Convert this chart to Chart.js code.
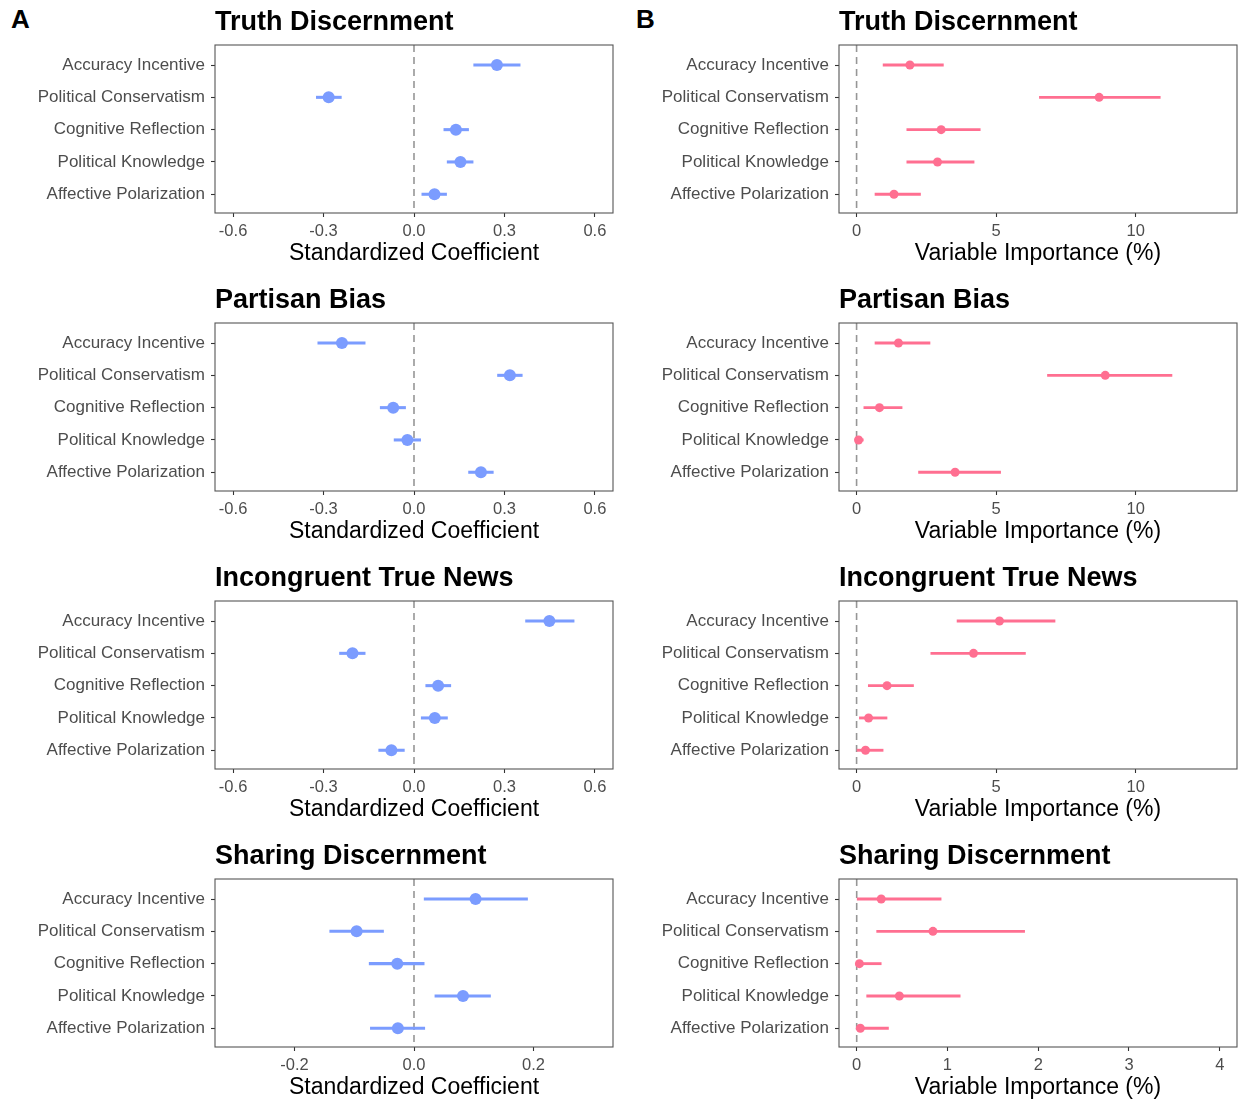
<!DOCTYPE html>
<html>
<head>
<meta charset="utf-8">
<script src="https://cdn.jsdelivr.net/npm/chart.js@4.4.1/dist/chart.umd.min.js"></script>
<style>
  html, body { margin: 0; padding: 0; background: #ffffff; }
  body { width: 1238px; height: 1099px; position: relative; overflow: hidden; }
  canvas { position: absolute; }
  .tag { position: absolute; font: bold 26px "Liberation Sans", Arial, sans-serif; color: #000; line-height: 1; }
</style>
</head>
<body>
<div class="tag" style="left:11px; top:6px;">A</div>
<div class="tag" style="left:636px; top:6px;">B</div>

<script>
// Predictors, listed top to bottom
const predictors = [
  'Accuracy Incentive',
  'Political Conservatism',
  'Cognitive Reflection',
  'Political Knowledge',
  'Affective Polarization'
];

const outcomeTitles = ['Truth Discernment', 'Partisan Bias', 'Incongruent True News', 'Sharing Discernment'];

// Column A: standardized regression coefficients (estimate, lower, upper)
const coefTruth      = [0.275, -0.283, 0.139, 0.154, 0.068];
const coefTruthLo    = [0.198, -0.324, 0.099, 0.110, 0.026];
const coefTruthHi    = [0.352, -0.241, 0.181, 0.196, 0.108];

const coefBias       = [-0.239, 0.318, -0.069, -0.022, 0.222];
const coefBiasLo     = [-0.319, 0.277, -0.112, -0.066, 0.181];
const coefBiasHi     = [-0.162, 0.359, -0.028, 0.022, 0.263];

const coefIncong     = [0.449, -0.204, 0.080, 0.069, -0.075];
const coefIncongLo   = [0.370, -0.247, 0.039, 0.024, -0.117];
const coefIncongHi   = [0.531, -0.162, 0.122, 0.111, -0.032];

const coefSharing    = [0.103, -0.096, -0.028, 0.082, -0.027];
const coefSharingLo  = [0.017, -0.141, -0.075, 0.035, -0.073];
const coefSharingHi  = [0.190, -0.051, 0.017, 0.128, 0.018];

// Column B: variable importance in percent (estimate, lower, upper)
const impTruth       = [1.91, 8.69, 3.03, 2.90, 1.34];
const impTruthLo     = [0.95, 6.55, 1.80, 1.80, 0.66];
const impTruthHi     = [3.11, 10.88, 4.43, 4.21, 2.29];

const impBias        = [1.50, 8.91, 0.82, 0.07, 3.53];
const impBiasLo      = [0.66, 6.84, 0.26, 0.00, 2.22];
const impBiasHi      = [2.63, 11.30, 1.63, 0.24, 5.16];

const impIncong      = [5.12, 4.19, 1.09, 0.43, 0.32];
const impIncongLo    = [3.60, 2.66, 0.42, 0.10, 0.00];
const impIncongHi    = [7.11, 6.05, 2.04, 1.09, 0.95];

const impSharing     = [0.27, 0.84, 0.03, 0.47, 0.04];
const impSharingLo   = [0.00, 0.22, 0.00, 0.11, 0.00];
const impSharingHi   = [0.93, 1.85, 0.27, 1.14, 0.35];

// Axis ticks
const coefTicks        = [-0.6, -0.3, 0.0, 0.3, 0.6];
const coefTicksSharing = [-0.2, 0.0, 0.2];
const impTicks         = [0, 5, 10];
const impTicksSharing  = [0, 1, 2, 3, 4];

const BLUE = '#7b9cff';
const PINK = '#ff6f91';
const FONT = '"Liberation Sans", Arial, Helvetica, sans-serif';

// Panel frame, dashed zero reference and panel heading
const panelDecor = {
  id: 'panelDecor',
  beforeDatasetsDraw(chart, args, opts) {
    const { ctx, chartArea } = chart;
    const x0 = chart.scales.x.getPixelForValue(0);
    ctx.save();
    ctx.strokeStyle = '#969696';
    ctx.lineWidth = 1.6;
    ctx.setLineDash([7, 5]);
    ctx.beginPath();
    ctx.moveTo(x0, chartArea.top);
    ctx.lineTo(x0, chartArea.bottom);
    ctx.stroke();
    ctx.restore();
  },
  afterDraw(chart, args, opts) {
    const { ctx, chartArea } = chart;
    ctx.save();
    ctx.strokeStyle = '#555555';
    ctx.lineWidth = 1.1;
    ctx.strokeRect(chartArea.left, chartArea.top, chartArea.right - chartArea.left, chartArea.bottom - chartArea.top);
    ctx.fillStyle = '#000000';
    ctx.font = 'bold 27px ' + FONT;
    ctx.textBaseline = 'alphabetic';
    ctx.textAlign = 'left';
    ctx.fillText(opts.heading, chartArea.left, 30);
    ctx.restore();
  }
};

function makePanel(opts) {
  const cv = document.createElement('canvas');
  cv.width = 614;
  cv.height = 278;
  cv.style.left = opts.left + 'px';
  cv.style.top = opts.top + 'px';
  document.body.appendChild(cv);

  const errData = opts.lo.map((l, i) => ({ x: [l, opts.hi[i]], y: i }));
  const ptData = opts.est.map((v, i) => ({ x: v, y: i }));

  return new Chart(cv.getContext('2d'), {
    type: 'bar',
    data: {
      datasets: [
        {
          type: 'bar',
          indexAxis: 'y',
          data: errData,
          backgroundColor: opts.color,
          borderWidth: 0,
          barThickness: opts.lineW,
          order: 2
        },
        {
          type: 'scatter',
          data: ptData,
          backgroundColor: opts.color,
          borderWidth: 0,
          pointRadius: opts.radius,
          pointHoverRadius: opts.radius,
          order: 1
        }
      ]
    },
    options: {
      indexAxis: 'y',
      responsive: false,
      animation: false,
      events: [],
      layout: { autoPadding: false, padding: { top: 45, right: 1, bottom: 0, left: 0 } },
      plugins: {
        legend: { display: false },
        tooltip: { enabled: false },
        panelDecor: { heading: opts.heading }
      },
      scales: {
        x: {
          type: 'linear',
          position: 'bottom',
          offset: false,
          min: opts.min,
          max: opts.max,
          afterBuildTicks: s => { s.ticks = opts.ticks.map(v => ({ value: v })); },
          afterFit: s => { s.height = 65; s.paddingLeft = 0; s.paddingRight = 0; },
          border: { display: false },
          grid: {
            offset: false,
            drawOnChartArea: false,
            drawTicks: true,
            tickLength: 4,
            tickColor: '#333333',
            tickWidth: 1.1
          },
          ticks: {
            padding: 5,
            color: '#4d4d4d',
            font: { family: FONT, size: 16.5 },
            maxRotation: 0,
            autoSkip: false,
            callback: v => opts.fmt(v)
          },
          title: {
            display: true,
            text: opts.axisTitle,
            color: '#000000',
            font: { family: FONT, size: 23 },
            padding: { top: 0, bottom: 11 }
          }
        },
        y: {
          type: 'linear',
          position: 'left',
          reverse: true,
          offset: false,
          min: -0.62,
          max: 4.58,
          afterBuildTicks: s => { s.ticks = predictors.map((_, i) => ({ value: i })); },
          afterFit: s => { s.width = 215; s.paddingTop = 0; s.paddingBottom = 0; },
          border: { display: false },
          grid: {
            offset: false,
            drawOnChartArea: false,
            drawTicks: true,
            tickLength: 4,
            tickColor: '#333333',
            tickWidth: 1.1
          },
          ticks: {
            padding: 6,
            color: '#4d4d4d',
            font: { family: FONT, size: 17 },
            autoSkip: false,
            callback: v => predictors[v]
          }
        }
      }
    },
    plugins: [panelDecor]
  });
}

const rowPitch = 278;
const coefFmt = v => v.toFixed(1);
const impFmt = v => String(v);

const colA = [
  { est: coefTruth,   lo: coefTruthLo,   hi: coefTruthHi,   min: -0.66,  max: 0.66,  ticks: coefTicks },
  { est: coefBias,    lo: coefBiasLo,    hi: coefBiasHi,    min: -0.66,  max: 0.66,  ticks: coefTicks },
  { est: coefIncong,  lo: coefIncongLo,  hi: coefIncongHi,  min: -0.66,  max: 0.66,  ticks: coefTicks },
  { est: coefSharing, lo: coefSharingLo, hi: coefSharingHi, min: -0.333, max: 0.333, ticks: coefTicksSharing }
];
const colB = [
  { est: impTruth,   lo: impTruthLo,   hi: impTruthHi,   min: -0.63,  max: 13.63, ticks: impTicks },
  { est: impBias,    lo: impBiasLo,    hi: impBiasHi,    min: -0.63,  max: 13.63, ticks: impTicks },
  { est: impIncong,  lo: impIncongLo,  hi: impIncongHi,  min: -0.63,  max: 13.63, ticks: impTicks },
  { est: impSharing, lo: impSharingLo, hi: impSharingHi, min: -0.195, max: 4.19,  ticks: impTicksSharing }
];

colA.forEach((p, r) => makePanel(Object.assign({}, p, {
  left: 0, top: r * rowPitch, heading: outcomeTitles[r],
  color: BLUE, radius: 6, lineW: 2.4,
  axisTitle: 'Standardized Coefficient', fmt: coefFmt
})));
colB.forEach((p, r) => makePanel(Object.assign({}, p, {
  left: 624, top: r * rowPitch, heading: outcomeTitles[r],
  color: PINK, radius: 4.5, lineW: 2.2,
  axisTitle: 'Variable Importance (%)', fmt: impFmt
})));
</script>
</body>
</html>
